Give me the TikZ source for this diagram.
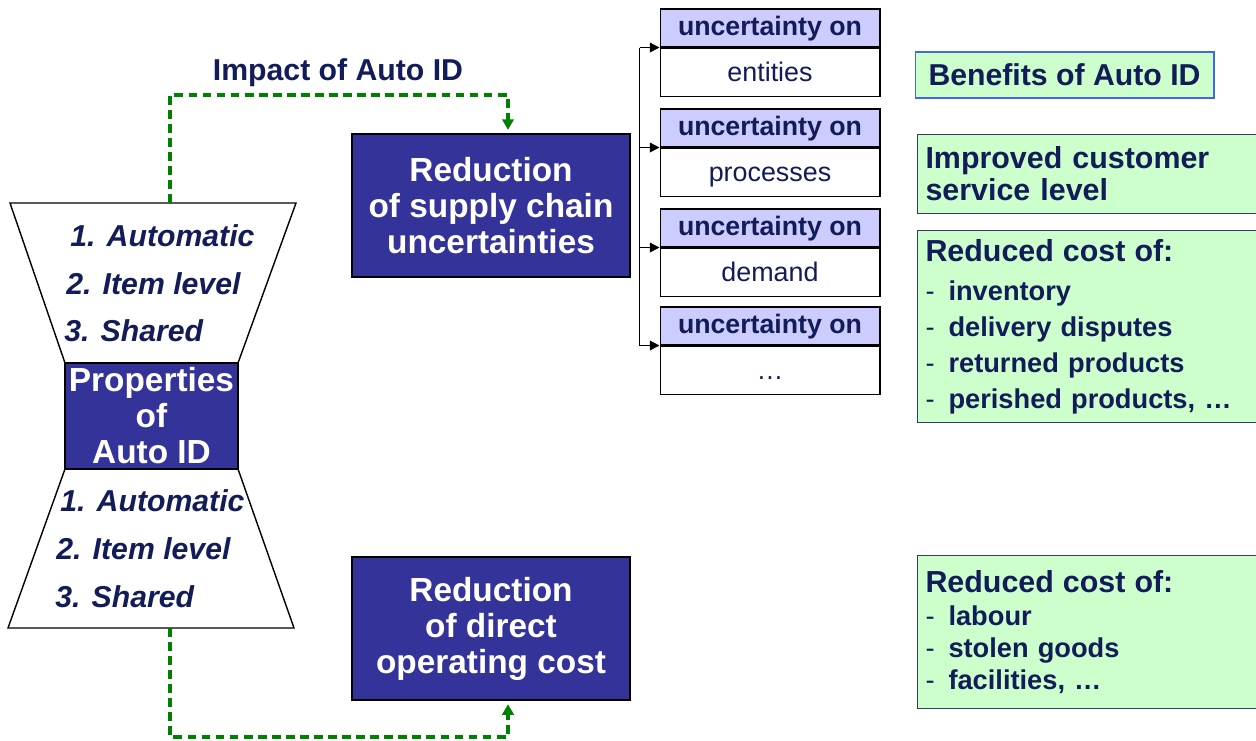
\documentclass[tikz,border=0pt]{standalone}
\usepackage{fontspec}
\setmainfont{Liberation Sans}
\usepackage{xcolor}
\usetikzlibrary{arrows.meta, positioning, calc}

\definecolor{navy}{RGB}{18,28,88}
\definecolor{boxblue}{RGB}{51,51,153}
\definecolor{lavender}{RGB}{204,204,255}
\definecolor{mint}{RGB}{204,255,204}
\definecolor{dashgreen}{RGB}{0,128,0}
\definecolor{slate}{RGB}{50,60,100}
\definecolor{lineblue}{RGB}{70,100,230}

\newcommand{\itm}{\makebox[4.6mm][l]{\mdseries -}}

\tikzset{
  bigbox/.style={draw=black, line width=0.8pt, fill=boxblue, text=white, font=\fontsize{19}{20.5}\selectfont\bfseries, align=center, minimum width=55.6mm, minimum height=28.6mm},
  head/.style={draw, line width=0.6pt, fill=lavender, text=navy, font=\fontsize{15.2}{18}\selectfont\bfseries, minimum width=44mm, minimum height=7.6mm, inner sep=0pt, text height=11.4pt, text depth=3.3pt},
  body/.style={draw, line width=0.6pt, fill=white, text=navy, font=\fontsize{15.3}{18}\selectfont, minimum width=44mm, minimum height=9.6mm, inner sep=0pt, text height=13pt, text depth=2.8pt},
  benefit/.style={draw=slate, line width=0.6pt, fill=mint, text=navy, font=\fontsize{17.3}{18.2}\selectfont\bfseries, align=left, anchor=north west, text width=67.4mm, inner xsep=1.6mm, inner ysep=0pt},
  prop/.style={anchor=west, inner sep=0pt, text=navy, font=\fontsize{17.2}{20}\selectfont\bfseries\itshape},
  impact/.style={dashgreen, line width=1.8pt, dash pattern=on 5pt off 3pt, -{Triangle[length=6pt, width=6.5pt, sep=2pt]}},
  feed/.style={line width=0.8pt, -{Triangle[length=5.5pt, width=5.5pt]}},
}

\begin{document}
\begin{tikzpicture}[x=0.02cm, y=-0.02cm]
  \useasboundingbox (0,0) rectangle (1256,740);

  % hourglass
  \draw[line width=0.8pt, fill=white] (10,203) -- (296,203) -- (238,363) -- (65,363) -- cycle;
  \draw[line width=0.8pt, fill=white] (65,469) -- (238,469) -- (294,628) -- (8,628) -- cycle;
  \node[bigbox, minimum width=34.6mm, minimum height=21.2mm, inner sep=0pt] at (151.5,416) (props) {Properties\\of\\Auto ID};
  \coordinate (topmid) at (170,203);
  \coordinate (botmid) at (170,628);

  \node[prop] at (70,236) (top1) {1. Automatic};
  \node[prop] at (66,284) (top2) {2. Item level};
  \node[prop] at (64,331) (top3) {3. Shared};
  \node[prop] at (60,501) (bot1) {1. Automatic};
  \node[prop] at (56,549) (bot2) {2. Item level};
  \node[prop] at (55,597) (bot3) {3. Shared};

  % reductions
  \node[bigbox] at (491,205.5) (red1) {Reduction\\of supply chain\\uncertainties};
  \node[bigbox] at (491,628.5) (red2) {Reduction\\of direct\\operating cost};

  \draw[impact] (topmid) -- ++(0,-108) -| ($(red1.north)+(17,0)$);
  \node[text=navy, font=\fontsize{17.2}{20}\selectfont\bfseries] at (338,73) (impact) {Impact of Auto ID};
  \draw[impact] (botmid) -- ++(0,109) -| ($(red2.south)+(17,0)$);

  % uncertainties
  \foreach \n/\y/\txt in {ent/28/entities, proc/128/processes, dem/228/demand, more/326/\dots}{
    \node[head] at (770,\y) (h\n) {uncertainty on};
    \node[body, below=0pt of h\n] (b\n) {\txt};
    \draw[feed] ($(h\n.south west)+(-20,0)$) -- (h\n.south west);
  }
  \draw[line width=0.8pt] ($(hent.south west)+(-20,0)$) -- ($(hmore.south west)+(-20,0)$);

  % benefits
  \node[draw=lineblue, line width=0.6pt, fill=mint, text=navy, font=\fontsize{17.2}{20}\selectfont\bfseries, minimum width=59.8mm, minimum height=9.2mm] at (1064.5,75) (benefits) {Benefits of Auto ID};
  \node[benefit, minimum height=15.8mm] at (917,134) (service) {Improved customer\\service level};
  \node[benefit, minimum height=38.4mm, font=\fontsize{15.5}{20.5}\selectfont\bfseries] at (917,230) (cost1)
    {{\fontsize{17.3}{20.5}\selectfont Reduced cost of:}\\[1.7pt]
     \itm inventory\\ \itm delivery disputes\\ \itm returned products\\ \itm perished products, \dots};
  \node[benefit, minimum height=30.6mm, font=\fontsize{15.5}{18}\selectfont\bfseries] at (917,555) (cost2)
    {{\fontsize{17.3}{18}\selectfont Reduced cost of:}\\[0.8pt]
     \itm labour\\ \itm stolen goods\\ \itm facilities, \dots};
\end{tikzpicture}
\end{document}
